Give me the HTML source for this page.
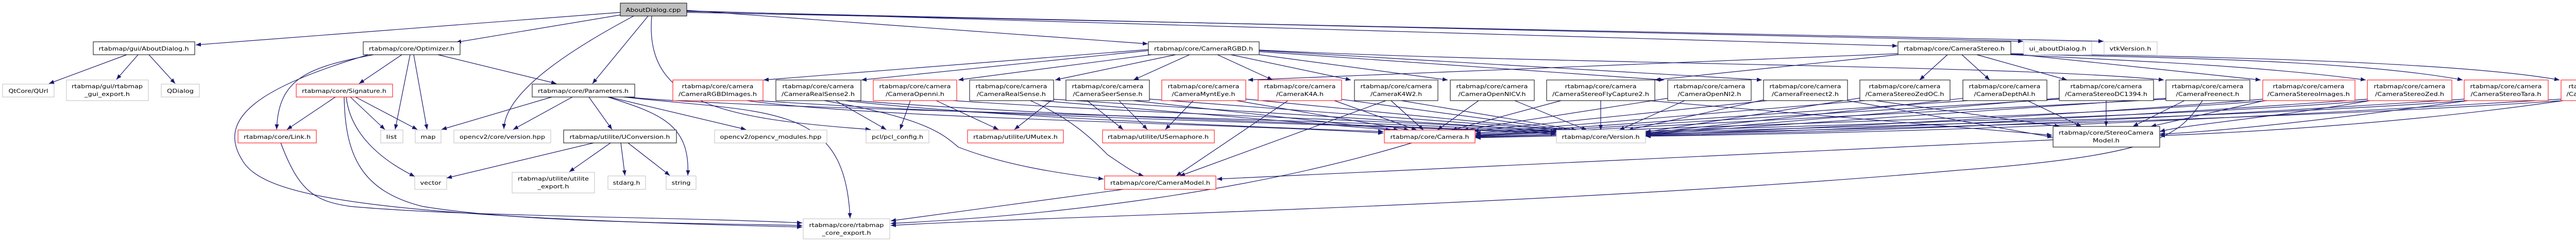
<!DOCTYPE html>
<html><head><meta charset="utf-8"><style>
html,body{margin:0;padding:0;background:#fff;}
svg{display:block;}
text{font-family:"DejaVu Sans","Liberation Sans",sans-serif;font-size:10.5px;fill:#000;}
.e{fill:none;stroke:#191970;stroke-width:1.2;marker-end:url(#a);}
.b{fill:#fff;stroke:#000;stroke-width:1;}
.r{fill:#fff;stroke:#ff0000;stroke-width:1;}
.g{fill:#fff;stroke:#bfbfbf;stroke-width:1;}
</style></head><body>
<svg width="5141" height="469" viewBox="0 0 5141 469" xmlns="http://www.w3.org/2000/svg">
<defs><marker id="a" markerUnits="userSpaceOnUse" markerWidth="10" markerHeight="8" refX="10" refY="4" orient="auto"><path d="M0,0 L10,4 L0,8 z" fill="#191970"/></marker></defs>
<g>
<!-- cpp edges -->
<path class="e" d="M1204,24 L380,87"/>
<path class="e" d="M1204,29 L885,82"/>
<path class="e" d="M1230,31 C1100,100 980,180 978,250"/>
<path class="e" d="M1258,31 L1150,162"/>
<path class="e" d="M1265,31 C1250,200 1400,230 1690,251"/>
<path class="e" d="M1333,20 L2228,85"/>
<path class="e" d="M1333,21 L3683,89"/>
<path class="e" d="M1333,22 L3927,80"/>
<path class="e" d="M1333,24 L4083,80"/>
<!-- AboutDialog.h -->
<path class="e" d="M246,106 L95,162"/>
<path class="e" d="M268,106 L226,154"/>
<path class="e" d="M289,106 L340,162"/>
<!-- Optimizer -->
<path class="e" d="M725,106 C600,130 540,150 537,251"/>
<path class="e" d="M715,106 C500,170 420,230 470,310 C510,380 700,420 1557,440"/>
<path class="e" d="M780,106 L697,162"/>
<path class="e" d="M796,106 L767,251"/>
<path class="e" d="M803,106 L829,251"/>
<path class="e" d="M850,106 L1080,162"/>
<!-- Signature -->
<path class="e" d="M651,188 L557,251"/>
<path class="e" d="M680,188 L747,251"/>
<path class="e" d="M690,188 L810,251"/>
<path class="e" d="M672,188 C680,260 740,310 805,342"/>
<path class="e" d="M668,188 C670,300 700,370 820,400 C1000,430 1300,432 1557,437"/>
<path class="e" d="M545,277 C580,370 610,390 680,400 C900,420 1300,420 1557,432"/>
<!-- Parameters -->
<path class="e" d="M1071,188 L857,251"/>
<path class="e" d="M1111,188 L996,251"/>
<path class="e" d="M1143,188 L1188,251"/>
<path class="e" d="M1180,188 C1280,220 1340,240 1335,340"/>
<path class="e" d="M1182,188 L1448,251"/>
<path class="e" d="M1210,188 C1500,220 1640,200 1650,423"/>
<path class="e" d="M1215,188 C1500,215 2500,225 3020,256"/>
<!-- UConversion -->
<path class="e" d="M1152,277 L867,345"/>
<path class="e" d="M1185,277 L1105,333"/>
<path class="e" d="M1205,277 L1213,340"/>
<path class="e" d="M1219,277 L1300,340"/>
<!-- CameraRGBD -->
<path class="e" d="M2229,96 L1482,155"/>
<path class="e" d="M2229,98 L1672,155"/>
<path class="e" d="M2235,106 L1860,155"/>
<path class="e" d="M2282,106 L2048,155"/>
<path class="e" d="M2309,106 L2200,155"/>
<path class="e" d="M2363,106 L2470,155"/>
<path class="e" d="M2389,106 L2622,155"/>
<path class="e" d="M2444,106 L2810,155"/>
<path class="e" d="M2444,100 L3230,155"/>
<path class="e" d="M2444,98 L3420,155"/>
<path class="e" d="M2444,97 C3000,125 3900,125 4200,155"/>
<!-- CameraStereo -->
<path class="e" d="M3684,104 L2422,155"/>
<path class="e" d="M3684,106 L3212,155"/>
<path class="e" d="M3780,106 L3726,155"/>
<path class="e" d="M3808,106 L3862,155"/>
<path class="e" d="M3837,106 L4012,155"/>
<path class="e" d="M3903,104 L4388,155"/>
<path class="e" d="M3903,106 C4200,120 4400,130 4592,155"/>
<path class="e" d="M3903,105 C4300,112 4600,122 4780,155"/>
<path class="e" d="M3903,104 C4400,110 4800,125 4968,155"/>
<!-- to Camera.h -->
<path class="e" d="M1450,195 C1700,230 2400,240 2685,258"/>
<path class="e" d="M1640,195 C1900,225 2400,245 2685,255"/>
<path class="e" d="M2020,195 L2700,252"/>
<path class="e" d="M2200,195 L2715,252"/>
<path class="e" d="M2400,195 L2735,252"/>
<path class="e" d="M2590,195 L2750,252"/>
<path class="e" d="M2700,195 L2763,252"/>
<path class="e" d="M2870,195 L2790,252"/>
<path class="e" d="M3030,195 L2818,252"/>
<path class="e" d="M3240,190 L2840,252"/>
<path class="e" d="M3430,195 L2860,254"/>
<path class="e" d="M3620,195 L2864,258"/>
<path class="e" d="M3820,195 L2864,260"/>
<path class="e" d="M4000,192 L2864,262"/>
<path class="e" d="M4210,192 L2864,263"/>
<path class="e" d="M4400,195 C4000,230 3200,245 2864,264"/>
<path class="e" d="M4600,195 C4200,230 3300,248 2864,265"/>
<path class="e" d="M4790,195 C4300,232 3400,250 2864,266"/>
<path class="e" d="M4975,195 C4400,235 3500,252 2864,267"/>
<!-- to Version.h -->
<path class="e" d="M1470,195 C2000,230 2800,245 3020,260"/>
<path class="e" d="M1660,195 C2100,230 2800,245 3020,258"/>
<path class="e" d="M1850,195 C2300,225 2900,240 3020,256"/>
<path class="e" d="M2040,192 L3025,254"/>
<path class="e" d="M2231,192 L3030,252"/>
<path class="e" d="M2418,192 L3035,252"/>
<path class="e" d="M2600,192 L3045,252"/>
<path class="e" d="M2720,195 L3060,252"/>
<path class="e" d="M2940,195 L3080,252"/>
<path class="e" d="M3107,195 L3107,252"/>
<path class="e" d="M3270,195 L3143,252"/>
<path class="e" d="M3430,192 L3160,252"/>
<path class="e" d="M3610,190 L3194,256"/>
<path class="e" d="M3815,190 L3194,258"/>
<path class="e" d="M4000,190 L3194,259"/>
<path class="e" d="M4210,190 L3194,260"/>
<path class="e" d="M4395,192 C4000,225 3500,250 3194,261"/>
<path class="e" d="M4598,192 C4100,228 3600,252 3194,262"/>
<path class="e" d="M4785,192 C4200,230 3700,254 3194,263"/>
<path class="e" d="M4973,192 C4300,232 3800,256 3194,264"/>
<!-- to StereoCameraModel -->
<path class="e" d="M3200,195 L3983,262"/>
<path class="e" d="M3640,195 L3998,245"/>
<path class="e" d="M3935,195 L4040,245"/>
<path class="e" d="M4088,195 L4088,245"/>
<path class="e" d="M4240,195 L4140,245"/>
<path class="e" d="M4395,195 L4175,245"/>
<path class="e" d="M4600,195 C4400,230 4250,240 4192,255"/>
<path class="e" d="M4790,195 C4500,235 4300,255 4192,260"/>
<path class="e" d="M4975,195 C4700,235 4400,255 4192,263"/>
<path class="e" d="M3586,195 L3984,266"/>
<!-- others -->
<path class="e" d="M3985,271 L2362,347"/>
<path class="e" d="M4275,195 C4230,260 4200,300 3800,330 C3000,400 2000,420 1729,437"/>
<path class="e" d="M2180,367 L1729,428"/>
<path class="e" d="M2740,277 C2400,380 2000,420 1729,433"/>
<path class="e" d="M2000,195 C2080,230 2120,270 2150,300 C2180,320 2200,335 2220,341"/>
<path class="e" d="M2500,195 L2283,341"/>
<path class="e" d="M2690,195 L2290,341"/>
<path class="e" d="M1600,195 C1800,230 1830,260 1860,285 C1950,320 2050,335 2142,347"/>
<path class="e" d="M1817,195 L1938,251"/>
<path class="e" d="M2040,195 L1969,251"/>
<path class="e" d="M2110,195 L2180,251"/>
<path class="e" d="M2172,195 L2227,251"/>
<path class="e" d="M2316,195 L2262,251"/>
<path class="e" d="M1622,195 L1720,251"/>
<path class="e" d="M1767,195 L1747,251"/>
</g>
<g>
<!-- row0 -->
<rect x="1204" y="6" width="129" height="25" fill="#bfbfbf" stroke="#000"/>
<text x="1268" y="23" text-anchor="middle" textLength="107" lengthAdjust="spacingAndGlyphs">AboutDialog.cpp</text>
<!-- row1 -->
<rect class="b" x="181" y="81" width="197" height="25"/><text x="279" y="98" text-anchor="middle" textLength="175" lengthAdjust="spacingAndGlyphs">rtabmap/gui/AboutDialog.h</text>
<rect class="b" x="705" y="81" width="188" height="25"/><text x="799" y="98" text-anchor="middle" textLength="166" lengthAdjust="spacingAndGlyphs">rtabmap/core/Optimizer.h</text>
<rect class="b" x="2229" y="81" width="215" height="25"/><text x="2336" y="98" text-anchor="middle" textLength="192" lengthAdjust="spacingAndGlyphs">rtabmap/core/CameraRGBD.h</text>
<rect class="b" x="3684" y="81" width="219" height="25"/><text x="3793" y="98" text-anchor="middle" textLength="196" lengthAdjust="spacingAndGlyphs">rtabmap/core/CameraStereo.h</text>
<rect class="g" x="3928" y="81" width="132" height="25"/><text x="3994" y="98" text-anchor="middle" textLength="111" lengthAdjust="spacingAndGlyphs">ui_aboutDialog.h</text>
<rect class="g" x="4084" y="81" width="103" height="25"/><text x="4135" y="98" text-anchor="middle" textLength="81" lengthAdjust="spacingAndGlyphs">vtkVersion.h</text>
<!-- row2 single -->
<rect class="g" x="5" y="163" width="100" height="25"/><text x="55" y="180" text-anchor="middle" textLength="77" lengthAdjust="spacingAndGlyphs">QtCore/QUrl</text>
<rect class="g" x="313" y="163" width="74" height="25"/><text x="350" y="180" text-anchor="middle" textLength="52" lengthAdjust="spacingAndGlyphs">QDialog</text>
<rect class="r" x="575" y="163" width="187" height="25"/><text x="668" y="180" text-anchor="middle" textLength="164" lengthAdjust="spacingAndGlyphs">rtabmap/core/Signature.h</text>
<rect class="b" x="1033" y="163" width="199" height="25"/><text x="1132" y="180" text-anchor="middle" textLength="176" lengthAdjust="spacingAndGlyphs">rtabmap/core/Parameters.h</text>
<!-- row2 double -->
<rect class="g" x="129" y="155" width="159" height="40"/><text x="208" y="171" text-anchor="middle" textLength="138" lengthAdjust="spacingAndGlyphs">rtabmap/gui/rtabmap</text><text x="208" y="186" text-anchor="middle" textLength="88" lengthAdjust="spacingAndGlyphs">_gui_export.h</text>

<rect class="r" x="1306" y="155" width="175" height="40"/><text x="1393" y="171" text-anchor="middle" textLength="139" lengthAdjust="spacingAndGlyphs">rtabmap/core/camera</text><text x="1393" y="186" text-anchor="middle" textLength="152" lengthAdjust="spacingAndGlyphs">/CameraRGBDImages.h</text>
<rect class="b" x="1506" y="155" width="165" height="40"/><text x="1588" y="171" text-anchor="middle" textLength="139" lengthAdjust="spacingAndGlyphs">rtabmap/core/camera</text><text x="1588" y="186" text-anchor="middle" textLength="142" lengthAdjust="spacingAndGlyphs">/CameraRealSense2.h</text>
<rect class="r" x="1695" y="155" width="162" height="40"/><text x="1776" y="171" text-anchor="middle" textLength="139" lengthAdjust="spacingAndGlyphs">rtabmap/core/camera</text><text x="1776" y="186" text-anchor="middle" textLength="114" lengthAdjust="spacingAndGlyphs">/CameraOpenni.h</text>
<rect class="b" x="1882" y="155" width="163" height="40"/><text x="1963" y="171" text-anchor="middle" textLength="139" lengthAdjust="spacingAndGlyphs">rtabmap/core/camera</text><text x="1963" y="186" text-anchor="middle" textLength="134" lengthAdjust="spacingAndGlyphs">/CameraRealSense.h</text>
<rect class="b" x="2069" y="155" width="162" height="40"/><text x="2150" y="171" text-anchor="middle" textLength="139" lengthAdjust="spacingAndGlyphs">rtabmap/core/camera</text><text x="2150" y="186" text-anchor="middle" textLength="135" lengthAdjust="spacingAndGlyphs">/CameraSeerSense.h</text>
<rect class="r" x="2255" y="155" width="163" height="40"/><text x="2336" y="171" text-anchor="middle" textLength="139" lengthAdjust="spacingAndGlyphs">rtabmap/core/camera</text><text x="2336" y="186" text-anchor="middle" textLength="123" lengthAdjust="spacingAndGlyphs">/CameraMyntEye.h</text>
<rect class="r" x="2442" y="155" width="162" height="40"/><text x="2523" y="171" text-anchor="middle" textLength="139" lengthAdjust="spacingAndGlyphs">rtabmap/core/camera</text><text x="2523" y="186" text-anchor="middle" textLength="92" lengthAdjust="spacingAndGlyphs">/CameraK4A.h</text>
<rect class="b" x="2629" y="155" width="162" height="40"/><text x="2710" y="171" text-anchor="middle" textLength="139" lengthAdjust="spacingAndGlyphs">rtabmap/core/camera</text><text x="2710" y="186" text-anchor="middle" textLength="100" lengthAdjust="spacingAndGlyphs">/CameraK4W2.h</text>
<rect class="b" x="2815" y="155" width="163" height="40"/><text x="2896" y="171" text-anchor="middle" textLength="139" lengthAdjust="spacingAndGlyphs">rtabmap/core/camera</text><text x="2896" y="186" text-anchor="middle" textLength="131" lengthAdjust="spacingAndGlyphs">/CameraOpenNICV.h</text>
<rect class="b" x="3002" y="155" width="210" height="40"/><text x="3107" y="171" text-anchor="middle" textLength="139" lengthAdjust="spacingAndGlyphs">rtabmap/core/camera</text><text x="3107" y="186" text-anchor="middle" textLength="188" lengthAdjust="spacingAndGlyphs">/CameraStereoFlyCapture2.h</text>
<rect class="b" x="3237" y="155" width="162" height="40"/><text x="3318" y="171" text-anchor="middle" textLength="139" lengthAdjust="spacingAndGlyphs">rtabmap/core/camera</text><text x="3318" y="186" text-anchor="middle" textLength="123" lengthAdjust="spacingAndGlyphs">/CameraOpenNI2.h</text>
<rect class="b" x="3423" y="155" width="163" height="40"/><text x="3504" y="171" text-anchor="middle" textLength="139" lengthAdjust="spacingAndGlyphs">rtabmap/core/camera</text><text x="3504" y="186" text-anchor="middle" textLength="130" lengthAdjust="spacingAndGlyphs">/CameraFreenect2.h</text>
<rect class="b" x="3610" y="155" width="175" height="40"/><text x="3697" y="171" text-anchor="middle" textLength="139" lengthAdjust="spacingAndGlyphs">rtabmap/core/camera</text><text x="3697" y="186" text-anchor="middle" textLength="153" lengthAdjust="spacingAndGlyphs">/CameraStereoZedOC.h</text>
<rect class="b" x="3810" y="155" width="163" height="40"/><text x="3891" y="171" text-anchor="middle" textLength="139" lengthAdjust="spacingAndGlyphs">rtabmap/core/camera</text><text x="3891" y="186" text-anchor="middle" textLength="119" lengthAdjust="spacingAndGlyphs">/CameraDepthAI.h</text>
<rect class="b" x="3997" y="155" width="183" height="40"/><text x="4088" y="171" text-anchor="middle" textLength="139" lengthAdjust="spacingAndGlyphs">rtabmap/core/camera</text><text x="4088" y="186" text-anchor="middle" textLength="160" lengthAdjust="spacingAndGlyphs">/CameraStereoDC1394.h</text>
<rect class="b" x="4204" y="155" width="163" height="40"/><text x="4285" y="171" text-anchor="middle" textLength="139" lengthAdjust="spacingAndGlyphs">rtabmap/core/camera</text><text x="4285" y="186" text-anchor="middle" textLength="123" lengthAdjust="spacingAndGlyphs">/CameraFreenect.h</text>
<rect class="r" x="4392" y="155" width="179" height="40"/><text x="4481" y="171" text-anchor="middle" textLength="139" lengthAdjust="spacingAndGlyphs">rtabmap/core/camera</text><text x="4481" y="186" text-anchor="middle" textLength="160" lengthAdjust="spacingAndGlyphs">/CameraStereoImages.h</text>
<rect class="r" x="4595" y="155" width="164" height="40"/><text x="4677" y="171" text-anchor="middle" textLength="139" lengthAdjust="spacingAndGlyphs">rtabmap/core/camera</text><text x="4677" y="186" text-anchor="middle" textLength="134" lengthAdjust="spacingAndGlyphs">/CameraStereoZed.h</text>
<rect class="r" x="4783" y="155" width="163" height="40"/><text x="4864" y="171" text-anchor="middle" textLength="139" lengthAdjust="spacingAndGlyphs">rtabmap/core/camera</text><text x="4864" y="186" text-anchor="middle" textLength="137" lengthAdjust="spacingAndGlyphs">/CameraStereoTara.h</text>
<rect class="r" x="4971" y="155" width="168" height="40"/><text x="5055" y="171" text-anchor="middle" textLength="139" lengthAdjust="spacingAndGlyphs">rtabmap/core/camera</text><text x="5055" y="186" text-anchor="middle" textLength="147" lengthAdjust="spacingAndGlyphs">/CameraStereoVideo.h</text>
<!-- row3 -->
<rect class="r" x="462" y="252" width="152" height="25"/><text x="538" y="269" text-anchor="middle" textLength="130" lengthAdjust="spacingAndGlyphs">rtabmap/core/Link.h</text>
<rect class="g" x="739" y="252" width="43" height="25"/><text x="760" y="269" text-anchor="middle" textLength="21" lengthAdjust="spacingAndGlyphs">list</text>
<rect class="g" x="806" y="252" width="50" height="25"/><text x="831" y="269" text-anchor="middle" textLength="29" lengthAdjust="spacingAndGlyphs">map</text>
<rect class="g" x="881" y="252" width="188" height="25"/><text x="975" y="269" text-anchor="middle" textLength="166" lengthAdjust="spacingAndGlyphs">opencv2/core/version.hpp</text>
<rect class="b" x="1094" y="252" width="219" height="25"/><text x="1203" y="269" text-anchor="middle" textLength="195" lengthAdjust="spacingAndGlyphs">rtabmap/utilite/UConversion.h</text>
<rect class="g" x="1387" y="252" width="218" height="25"/><text x="1496" y="269" text-anchor="middle" textLength="197" lengthAdjust="spacingAndGlyphs">opencv2/opencv_modules.hpp</text>
<rect class="g" x="1681" y="252" width="122" height="25"/><text x="1742" y="269" text-anchor="middle" textLength="100" lengthAdjust="spacingAndGlyphs">pcl/pcl_config.h</text>
<rect class="r" x="1878" y="252" width="186" height="25"/><text x="1971" y="269" text-anchor="middle" textLength="164" lengthAdjust="spacingAndGlyphs">rtabmap/utilite/UMutex.h</text>
<rect class="r" x="2140" y="252" width="217" height="25"/><text x="2248" y="269" text-anchor="middle" textLength="196" lengthAdjust="spacingAndGlyphs">rtabmap/utilite/USemaphore.h</text>
<rect class="r" x="2687" y="252" width="176" height="25"/><text x="2775" y="269" text-anchor="middle" textLength="153" lengthAdjust="spacingAndGlyphs">rtabmap/core/Camera.h</text>
<rect class="g" x="3021" y="252" width="173" height="25"/><text x="3107" y="269" text-anchor="middle" textLength="151" lengthAdjust="spacingAndGlyphs">rtabmap/core/Version.h</text>
<rect class="b" x="3985" y="245" width="207" height="40"/><text x="4088" y="261" text-anchor="middle" textLength="184" lengthAdjust="spacingAndGlyphs">rtabmap/core/StereoCamera</text><text x="4088" y="276" text-anchor="middle" textLength="52" lengthAdjust="spacingAndGlyphs">Model.h</text>
<!-- row4 -->
<rect class="g" x="805" y="341" width="62" height="26"/><text x="836" y="358" text-anchor="middle" textLength="41" lengthAdjust="spacingAndGlyphs">vector</text>
<rect class="g" x="994" y="334" width="160" height="40"/><text x="1074" y="350" text-anchor="middle" textLength="138" lengthAdjust="spacingAndGlyphs">rtabmap/utilite/utilite</text><text x="1074" y="365" text-anchor="middle" textLength="61" lengthAdjust="spacingAndGlyphs">_export.h</text>
<rect class="g" x="1180" y="341" width="73" height="26"/><text x="1216" y="358" text-anchor="middle" textLength="53" lengthAdjust="spacingAndGlyphs">stdarg.h</text>
<rect class="g" x="1293" y="341" width="58" height="26"/><text x="1322" y="358" text-anchor="middle" textLength="37" lengthAdjust="spacingAndGlyphs">string</text>
<rect class="r" x="2144" y="341" width="216" height="26"/><text x="2252" y="358" text-anchor="middle" textLength="194" lengthAdjust="spacingAndGlyphs">rtabmap/core/CameraModel.h</text>
<!-- row5 -->
<rect class="g" x="1559" y="424" width="168" height="39"/><text x="1643" y="440" text-anchor="middle" textLength="145" lengthAdjust="spacingAndGlyphs">rtabmap/core/rtabmap</text><text x="1643" y="455" text-anchor="middle" textLength="95" lengthAdjust="spacingAndGlyphs">_core_export.h</text>
</g>
</svg>
</body></html>
